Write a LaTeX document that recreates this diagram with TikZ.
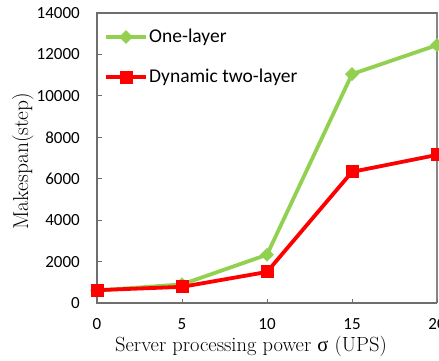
\documentclass[tikz,border=0pt]{standalone}
\usepackage{fontspec}
\usetikzlibrary{shapes.geometric}
\newfontfamily\ticksans{Carlito}
\newfontfamily\greekserif{Liberation Serif}
\definecolor{seriesgreen}{RGB}{146,208,80}
\definecolor{seriesred}{RGB}{255,0,0}
\definecolor{axisgray}{RGB}{110,110,110}
\definecolor{framegray}{RGB}{134,134,134}
\tikzset{
  axisline/.style={draw=axisgray, line width=1.1pt},
  frameline/.style={draw=framegray, line width=1.1pt},
  tickmark/.style={draw=axisgray, line width=1pt},
  ticklabel/.style={font=\ticksans\fontsize{17}{20}\selectfont, text=black, inner sep=0pt},
  legendtext/.style={font=\ticksans\fontsize{19.5}{22}\selectfont, text=black, inner sep=0pt, anchor=west},
  xtitlestyle/.style={font=\fontsize{20.5}{24}\selectfont, text=black, inner sep=0pt, anchor=base},
  ytitlestyle/.style={font=\fontsize{21.5}{24}\selectfont, text=black, inner sep=0pt, anchor=base, rotate=90},
  greenline/.style={draw=seriesgreen, line width=3.8pt, line join=round},
  redline/.style={draw=seriesred, line width=3.8pt, line join=round},
  greenmark/.style={diamond, fill=seriesgreen, inner sep=0pt, minimum width=14pt, minimum height=14pt},
  redmark/.style={rectangle, fill=seriesred, inner sep=0pt, minimum size=13pt},
}
\begin{document}
\begin{tikzpicture}[x=1pt,y=1pt]
  \useasboundingbox (0,0) rectangle (439,360);
  \clip (0,0) rectangle (439,360);

  % plot area: x data 0..20 -> 97..437, y data 0..14000 -> 57..347
  \coordinate (ll) at (97,57);
  \coordinate (lr) at (437,57);
  \coordinate (ul) at (97,347);
  \coordinate (ur) at (437,347);
  \draw[frameline] (ul) -- (ur) -- (lr);
  \draw[axisline] (ur) -- (ul) -- (ll) -- (lr);

  % y ticks and labels
  \foreach \v [count=\i] in {0,2000,4000,6000,8000,10000,12000,14000} {
    \pgfmathsetmacro{\yy}{57+\v/14000*290}
    \coordinate (yt\i) at (97,\yy);
    \coordinate (ytin\i) at (101.5,\yy);
    \draw[tickmark] (yt\i) -- (ytin\i);
    \node[ticklabel, anchor=east] (ylab\i) at (80,\yy) {\v};
  }

  % x ticks and labels
  \foreach \v [count=\i] in {0,5,10,15,20} {
    \pgfmathsetmacro{\xx}{97+17*\v}
    \coordinate (xt\i) at (\xx,57);
    \coordinate (xtin\i) at (\xx,61.5);
    \draw[tickmark] (xt\i) -- (xtin\i);
    \node[ticklabel] (xlab\i) at (\xx,36) {\v};
  }

  % axis titles
  \node[xtitlestyle] (xtitle) at (251,9) {Server processing power {\greekserif σ} (UPS)};
  \node[ytitlestyle] (ytitle) at (28,199) {Makespan(step)};

  % One-layer series
  \foreach \x/\v [count=\i] in {0/600,5/900,10/2330,15/11050,20/12450} {
    \coordinate (g\i) at ({97+17*\x},{57+\v/14000*290});
  }
  \draw[greenline] (g1) -- (g2) -- (g3) -- (g4) -- (g5);
  \foreach \i in {1,...,5} { \node[greenmark] (gm\i) at (g\i) {}; }

  % Dynamic two-layer series
  \foreach \x/\v [count=\i] in {0/620,5/780,10/1500,15/6330,20/7150} {
    \coordinate (r\i) at ({97+17*\x},{57+\v/14000*290});
  }
  \draw[redline] (r1) -- (r2) -- (r3) -- (r4) -- (r5);
  \foreach \i in {1,...,5} { \node[redmark] (rm\i) at (r\i) {}; }

  % legend
  \coordinate (lga) at (106,323);
  \coordinate (lgb) at (146,323);
  \draw[greenline] (lga) -- (lgb);
  \node[greenmark] (lgm) at (126,323) {};
  \node[legendtext] (lgt) at (149,323) {One-layer};

  \coordinate (lra) at (106,283);
  \coordinate (lrb) at (146,283);
  \draw[redline] (lra) -- (lrb);
  \node[redmark] (lrm) at (126,283) {};
  \node[legendtext] (lrt) at (149,283) {Dynamic two-layer};
\end{tikzpicture}
\end{document}
